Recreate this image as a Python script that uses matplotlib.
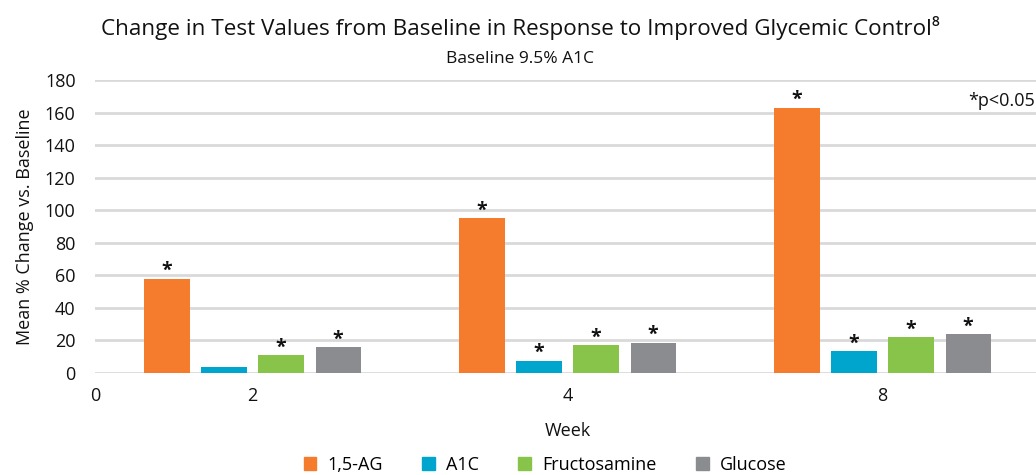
import numpy as np
import matplotlib
matplotlib.use('Agg')
import matplotlib.pyplot as plt
from matplotlib.patches import Patch

# datos
weeks = ['2', '4', '8']
series = ['1,5-AG', 'A1C', 'Fructosamine', 'Glucose']
ag15 = [58, 95, 163]
a1c = [3.5, 7.5, 13.5]
fructosamine = [11, 17, 22]
glucose = [16, 18.5, 24]
# asteriscos de significancia (True = p<0.05)
sig_ag15 = [True, True, True]
sig_a1c = [False, True, True]
sig_fructosamine = [True, True, True]
sig_glucose = [True, True, True]

colors_list = ['#F47C2C', '#00A5CD', '#88C34A', '#8A8C8F']

plt.rcParams['font.family'] = ['Open Sans', 'DejaVu Sans']

fig = plt.figure(figsize=(10.36, 4.75), dpi=100)
ax = fig.add_axes([95/1036, 102/475, 945/1036, 293/475])

values = [ag15, a1c, fructosamine, glucose]
sigs = [sig_ag15, sig_a1c, sig_fructosamine, sig_glucose]
centers = np.arange(len(weeks)) + 0.5
step = 0.181
width = 0.143
for i, (vals, sg) in enumerate(zip(values, sigs)):
    xs = centers + (i - 1.5) * step
    ax.bar(xs, vals, width, color=colors_list[i], zorder=3)
    for x, v, s in zip(xs, vals, sg):
        if s:
            ax.text(x, v - 1.5, '*', ha='center', va='bottom', fontsize=14,
                    fontweight='bold', color='#111111', zorder=4)

ax.set_ylim(0, 180)
ax.set_xlim(0, 3)
ax.set_yticks(np.arange(0, 181, 20))
ax.set_xticks([0] + list(centers))
ax.set_xticklabels(['0'] + weeks)
ax.tick_params(axis='both', length=0, labelsize=13, colors='#111111')
ax.tick_params(axis='x', pad=10)
ax.tick_params(axis='y', pad=14)
for sp in ax.spines.values():
    sp.set_visible(False)
ax.grid(axis='y', color='#d9d9d9', linewidth=2, zorder=0)
ax.set_axisbelow(True)

ax.set_xlabel('Week', fontsize=13, labelpad=12, color='#111111')
ax.set_ylabel('Mean % Change vs. Baseline', fontsize=13, labelpad=8, color='#111111')

fig.text(0.502, 0.94, 'Change in Test Values from Baseline in Response to Improved Glycemic Control\u2078',
         ha='center', va='center', fontsize=16.2, color='#111111')
fig.text(0.502, 0.876, 'Baseline 9.5% A1C', ha='center', va='center', fontsize=12.5, color='#111111')
fig.text(0.999, 0.788, '*p<0.05', ha='right', va='center', fontsize=13, color='#111111')

handles = [Patch(color=c, label=s) for c, s in zip(colors_list, series)]
fig.legend(handles=handles, loc='center', bbox_to_anchor=(0.526, 0.022), ncol=4, frameon=False,
           fontsize=13, handlelength=0.7, handleheight=0.7, columnspacing=2.2, handletextpad=0.6)

fig.savefig('out.png', dpi=100)
